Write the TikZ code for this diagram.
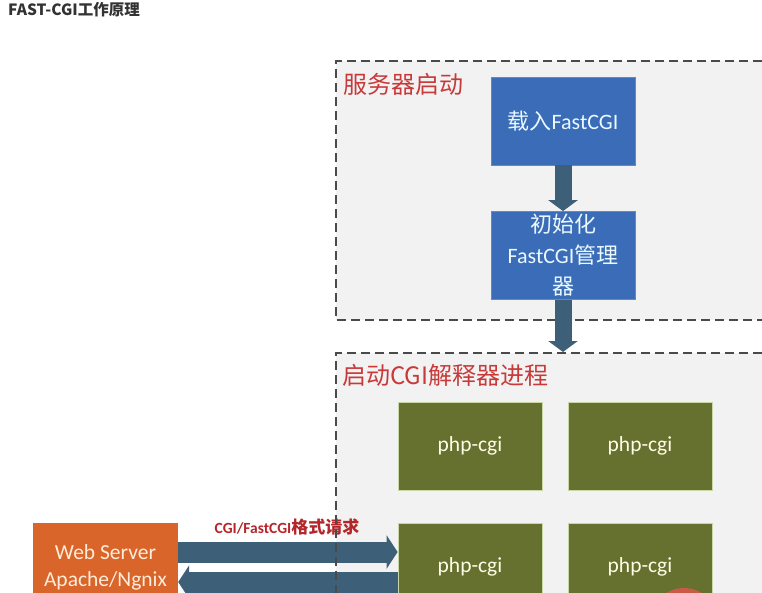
\documentclass[tikz,border=0pt]{standalone}
\usepackage{fontspec}
\setmainfont{Carlito}
\newfontfamily\cjk{Noto Sans CJK SC}
\usetikzlibrary{arrows.meta,backgrounds}
\definecolor{panelfill}{HTML}{F2F2F2}
\definecolor{paneldash}{HTML}{4A4A4A}
\definecolor{boxblue}{HTML}{3A6CB8}
\definecolor{boxblueline}{HTML}{5B8AD0}
\definecolor{boxgreen}{HTML}{66702F}
\definecolor{boxgreenline}{HTML}{C9D6A6}
\definecolor{boxorange}{HTML}{D9652B}
\definecolor{arrowc}{HTML}{3D5F78}
\definecolor{titlered}{HTML}{C83A3A}
\definecolor{labelred}{HTML}{B3262A}
\definecolor{dotred}{HTML}{C95A48}
\tikzset{
  panel/.style={fill=panelfill},
  panelborder/.style={draw=paneldash, line width=1.3pt, dash pattern=on 9pt off 5pt},
  paneltitle/.style={anchor=west, inner sep=0pt, text=titlered, font=\fontsize{24}{28}\selectfont\cjk},
  bluebox/.style={fill=boxblue, draw=boxblueline, line width=0.8pt, minimum width=144pt, minimum height=88pt,
    text=white!92!cyan, align=center, inner sep=0pt, font=\fontsize{22}{31}\selectfont},
  greenbox/.style={fill=boxgreen, draw=boxgreenline, line width=0.8pt, minimum width=144pt, minimum height=88pt,
    text=white!90!yellow, inner sep=0pt, font=\fontsize{21.5}{27}\selectfont},
  orangebox/.style={fill=boxorange, minimum width=145pt, minimum height=88pt,
    text=white!85!orange, align=center, inner sep=0pt, font=\fontsize{21.5}{27}\selectfont},
  vblock/.style={draw=arrowc, line width=17pt, -{Triangle[width=29pt,length=11pt]}},
  hblock/.style={draw=arrowc, line width=21pt, -{Triangle[width=33pt,length=11pt]}},
}
\begin{document}
\begin{tikzpicture}[x=1pt,y=-1pt]
\useasboundingbox (0,0) rectangle (762,592);
\fill[white] (0,0) rectangle (762,592);
\clip (0,0) rectangle (762,592);

% title
\node[anchor=west, inner sep=0pt, text=black!80, font=\fontsize{15.5}{18}\selectfont\cjk\bfseries] (title) at (8,10) {FAST-CGI工作原理};

% panels (fills)
\fill[panel] (336,61) rectangle (790,320);
\fill[panel] (336,353) rectangle (790,640);
\draw[panelborder] (790,61) -- (336,61) -- (336,320) -- (790,320);

\node[paneltitle] (t1) at (343,84) {服务器启动};
\node[paneltitle] (t2) at (342,375) {启动CGI解释器进程};

% blue boxes
\node[bluebox] (load) at (563,121) {{\cjk 载入}FastCGI};
\node[bluebox] (init) at (563,255.5) {{\cjk 初始化}\\FastCGI{\cjk 管理}\\{\cjk 器}};
\coordinate (cgitop) at (563,352);

% green boxes
\node[greenbox] (p1) at (470,446) {php-cgi};
\node[greenbox] (p2) at (640,446) {php-cgi};
\node[greenbox] (p3) at (470,567) {php-cgi};
\node[greenbox] (p4) at (640,567) {php-cgi};

% web server
\node[orangebox] (web) at (105.5,567) {Web Server\\Apache/Ngnix};

% arrows
\draw[vblock] (load.south) -- (init.north);
\draw[vblock] (init.south) -- (cgitop);
\draw[hblock] ([yshift=15pt]web.east) -- ([yshift=15pt]p3.west);
\draw[hblock] ([yshift=-15pt]p3.west) -- ([yshift=-15pt]web.east);

\node[inner sep=0pt, text=labelred, font=\fontsize{15.5}{18}\selectfont\bfseries] (req) at (287,527) {CGI/FastCGI{\cjk\fontsize{17}{19}\selectfont 格式请求}};

% border of second panel (on top)
\draw[panelborder] (790,353) -- (336,353) -- (336,640);

% partial red circle
\fill[dotred] (684,622) circle[radius=34pt];
\end{tikzpicture}
\end{document}
